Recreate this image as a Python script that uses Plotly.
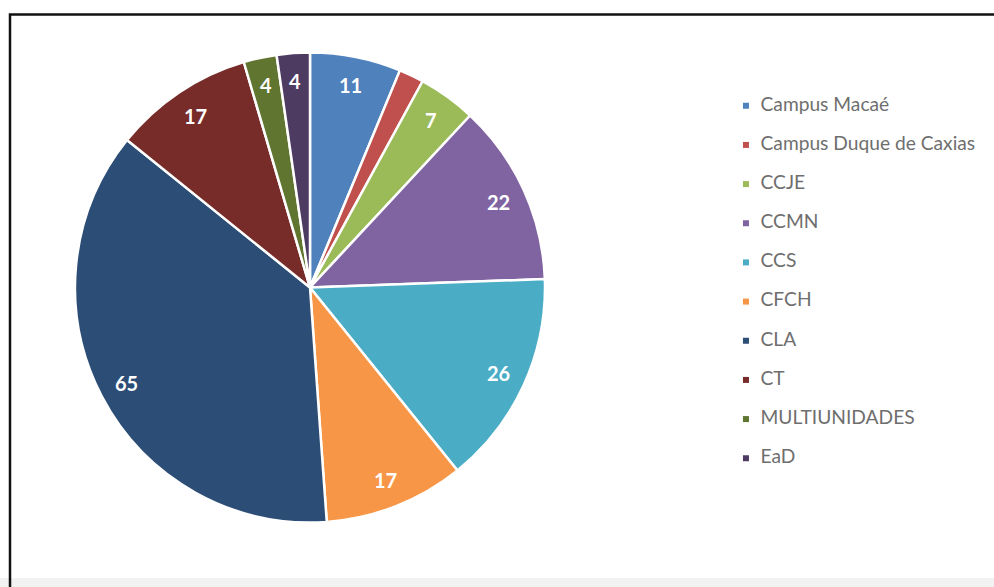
import math
import plotly.graph_objects as go

# Slices, in drawing order (clockwise from 12 o'clock)
labels = [
    "Campus Macaé", "Campus Duque de Caxias", "CCJE", "CCMN", "CCS",
    "CFCH", "CLA", "CT", "MULTIUNIDADES", "EaD",
]
values = [11, 3, 7, 22, 26, 17, 65, 17, 4, 4]
shown = [True, False, True, True, True, True, True, True, True, True]

colors = [
    "#4F81BD", "#C0504D", "#9BBB59", "#8064A2", "#4BACC6",
    "#F79646", "#2C4D75", "#772C2A", "#5F7530", "#4D3B62",
]

W, H = 994, 587
PIE_DOMAIN = dict(x=[75 / W, 545 / W], y=[1 - 522.5 / H, 1 - 52.5 / H])
LABEL_R = 0.88  # label distance from centre, as a share of the radius

fig = go.Figure()

fig.add_trace(go.Pie(
    labels=labels,
    values=values,
    sort=False,
    direction="clockwise",
    rotation=0,
    marker=dict(colors=colors, line=dict(color="white", width=2.5)),
    textinfo="none",
    domain=PIE_DOMAIN,
    showlegend=False,
    hoverinfo="label+value",
))

# value labels near the rim (Excel "best fit" look), placed on each slice's bisector
cx = (PIE_DOMAIN["x"][0] + PIE_DOMAIN["x"][1]) / 2 * W
cy = (PIE_DOMAIN["y"][0] + PIE_DOMAIN["y"][1]) / 2 * H
rad = (PIE_DOMAIN["x"][1] - PIE_DOMAIN["x"][0]) * W / 2
total = sum(values)
run = 0
annotations = []
for v, s in zip(values, shown):
    mid = math.radians((run + v / 2) * 360 / total)
    run += v
    if not s:
        continue
    annotations.append(dict(
        x=(cx + LABEL_R * rad * math.sin(mid)) / W,
        y=(cy + LABEL_R * rad * math.cos(mid)) / H,
        xref="paper", yref="paper", showarrow=False,
        xanchor="center", yanchor="middle",
        text=f"<b>{v}</b>",
        font=dict(family="Lato, DejaVu Sans", size=20, color="white"),
    ))

# legend drawn as a category column so entries keep the wide spacing
fig.add_trace(go.Scatter(
    x=[0] * len(labels),
    y=labels,
    mode="markers+text",
    marker=dict(symbol="square", size=6, color=colors),
    text=["  " + l for l in labels],
    textposition="middle right",
    textfont=dict(family="Lato, Open Sans, DejaVu Sans", size=19.2, color="#6E6E6E"),
    showlegend=False,
    hoverinfo="skip",
))

fig.update_layout(
    width=W, height=H,
    margin=dict(l=0, r=0, t=0, b=0),
    paper_bgcolor="white",
    plot_bgcolor="rgba(0,0,0,0)",
    showlegend=False,
    annotations=annotations,
    xaxis=dict(domain=[741 / W, 1.0], range=[-0.02, 1], visible=False, fixedrange=True),
    yaxis=dict(domain=[1 - 482 / H, 1 - 82 / H], type="category",
               categoryorder="array", categoryarray=labels,
               autorange="reversed", visible=False, fixedrange=True),
    shapes=[
        dict(type="rect", xref="paper", yref="paper",
             x0=0, x1=1, y0=0, y1=9 / H,
             line=dict(width=0), fillcolor="#F2F2F2", layer="below"),
        dict(type="rect", xref="paper", yref="paper",
             x0=10 / W, x1=1.05, y0=-0.05, y1=1 - 14.5 / H,
             line=dict(color="#111111", width=2.5)),
    ],
)

fig.write_html("out.html", config={"displayModeBar": False},
               post_script="document.body.style.margin='0';")
